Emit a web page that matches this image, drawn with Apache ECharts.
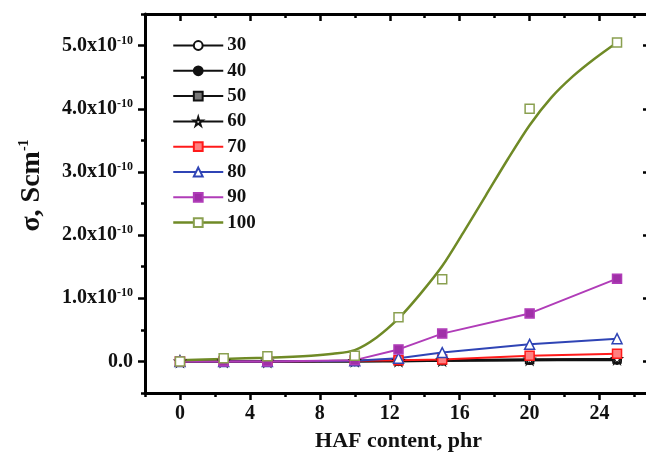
<!DOCTYPE html>
<html><head><meta charset="utf-8">
<script src="https://cdn.jsdelivr.net/npm/echarts@6/dist/echarts.min.js"></script>
<style>html,body{margin:0;padding:0;background:#fff}#c{width:646px;height:458px}</style>
</head><body><div id="c"></div>
<script>
// HAF content (phr)
const xValues = [0, 2.5, 5, 10, 12.5, 15, 20, 25];
// conductivity in units of 1e-10 S/cm
const s30 = [0, 0.0, 0.0, 0.0, 0.01, 0.01, 0.02, 0.03];
const s40 = [0, 0.0, 0.0, 0.0, 0.0, 0.01, 0.02, 0.02];
const s50 = [0, 0.0, 0.0, 0.01, 0.01, 0.02, 0.03, 0.04];
const s60 = [0, 0.0, 0.0, 0.01, 0.01, 0.02, 0.03, 0.04];
const s70 = [0, 0.0, 0.0, 0.01, 0.02, 0.03, 0.09, 0.12];
const s80 = [0, 0.0, 0.0, 0.01, 0.05, 0.14, 0.27, 0.36];
const s90 = [0, 0.0, 0.0, 0.02, 0.19, 0.44, 0.76, 1.31];
const s100 = [0, 0.05, 0.08, 0.09, 0.70, 1.30, 4.0, 5.05];
// fitted curve for 100
const fit100X = [0, 2.5, 5, 7.5, 8.75, 10, 11.25, 12.5, 13.75, 15, 16.25, 17.5, 18.75, 20, 21.25, 22.5, 23.75, 25];
const fit100Y = [0.02, 0.04, 0.06, 0.09, 0.12, 0.18, 0.38, 0.68, 1.07, 1.51, 2.06, 2.63, 3.2, 3.74, 4.18, 4.52, 4.8, 5.05];
const seriesNames = ['30', '40', '50', '60', '70', '80', '90', '100'];
const xMajorTicks = [0, 4, 8, 12, 16, 20, 24];
const yMajorTicks = [0, 1, 2, 3, 4, 5];

const FONT = 'Liberation Serif';
const starPath = 'path://M50,0 L61,35 L98,35 L68,57 L79,91 L50,70 L21,91 L32,57 L2,35 L39,35 Z';
const pair = (ys) => xValues.map((x, i) => [x, ys[i]]);

function lineSeries(name, ys, color, symbol, fill, size, extra) {
  return Object.assign({
    name, type: 'line', data: pair(ys), symbol, symbolSize: size,
    showAllSymbol: true,
    lineStyle: { color, width: 2 },
    itemStyle: { color: fill, borderColor: color, borderWidth: 1.5 },
    emphasis: { disabled: true }, animation: false
  }, extra || {});
}

const chart = echarts.init(document.getElementById('c'), null, { renderer: 'canvas' });
const axisCommon = { splitLine: { show: false } };
const tickStyle = { width: 2.5, color: '#000' };
const option = {
  animation: false,
  grid: { left: 145, top: 14, width: 507, height: 379, outerBoundsMode: 'none', containLabel: false },
  legend: {
    data: [
      { name: '30' }, { name: '40' }, { name: '50' }, { name: '60' },
      { name: '70' }, { name: '80' }, { name: '90' },
      { name: '100', lineStyle: { opacity: 1, width: 2.5, color: '#6f8a26' } }
    ],
    orient: 'vertical', left: 167, top: 31, itemWidth: 50, itemHeight: 11, itemGap: 6.3,
    textStyle: { fontFamily: FONT, fontWeight: 'bold', fontSize: 19, color: '#111', padding: [0, 0, 0, -1] }
  },
  xAxis: [
    Object.assign({}, axisCommon, {
      type: 'value', position: 'bottom', min: -2, max: 27, interval: 2,
      axisLine: { onZero: false, lineStyle: { color: '#000', width: 3 } },
      axisTick: { show: true, length: 7, customValues: xMajorTicks, lineStyle: tickStyle },
      axisLabel: { margin: 11, fontFamily: FONT, fontWeight: 'bold', fontSize: 20, color: '#111',
        formatter: (v) => (xMajorTicks.indexOf(v) >= 0 ? String(v) : '') },
      name: 'HAF content, phr', nameLocation: 'middle', nameGap: 37,
      nameTextStyle: { fontFamily: FONT, fontWeight: 'bold', fontSize: 22, color: '#111' }
    }),
    Object.assign({}, axisCommon, {
      type: 'value', position: 'bottom', min: -2, max: 27, interval: 2,
      axisLine: { show: false, onZero: false },
      axisTick: { show: true, length: 4, lineStyle: tickStyle },
      axisLabel: { show: false }
    }),
    Object.assign({}, axisCommon, {
      type: 'value', position: 'top', min: -2, max: 27, interval: 2,
      axisLine: { onZero: false, lineStyle: { color: '#000', width: 3 } },
      axisTick: { show: true, inside: true, length: 4, lineStyle: tickStyle },
      axisLabel: { show: false }
    }),
    Object.assign({}, axisCommon, {
      type: 'value', position: 'top', min: -2, max: 27, interval: 2,
      axisLine: { show: false, onZero: false },
      axisTick: { show: true, inside: true, length: 7, customValues: xMajorTicks, lineStyle: tickStyle },
      axisLabel: { show: false }
    })
  ],
  yAxis: [
    Object.assign({}, axisCommon, {
      type: 'value', position: 'left', min: -0.5, max: 5.5, interval: 0.5,
      axisLine: { onZero: false, lineStyle: { color: '#000', width: 3 } },
      axisTick: { show: true, length: 7, customValues: yMajorTicks, lineStyle: tickStyle },
      axisLabel: {
        margin: 12, fontFamily: FONT, fontWeight: 'bold', fontSize: 20, color: '#111',
        formatter: (v) => {
          if (yMajorTicks.indexOf(v) < 0) return '';
          if (v === 0) return '0.0';
          return v.toFixed(1) + 'x10{sup|-10}';
        },
        rich: { sup: { fontFamily: FONT, fontWeight: 'bold', fontSize: 12, color: '#111', verticalAlign: 'top', padding: [0, 0, 10, 0] } }
      },
      name: 'σ, Scm{sup|-1}', nameLocation: 'middle', nameGap: 98,
      nameTextStyle: { fontFamily: FONT, fontWeight: 'bold', fontSize: 28, color: '#111', padding: [0, 0, 0, 36],
        rich: { sup: { fontFamily: FONT, fontWeight: 'bold', fontSize: 14, color: '#111', padding: [0, 0, 16, 0] } } }
    }),
    Object.assign({}, axisCommon, {
      type: 'value', position: 'left', min: -0.5, max: 5.5, interval: 0.5,
      axisLine: { show: false, onZero: false },
      axisTick: { show: true, length: 4, lineStyle: tickStyle },
      axisLabel: { show: false }
    }),
    Object.assign({}, axisCommon, {
      type: 'value', position: 'right', min: -0.5, max: 5.5, interval: 0.5,
      axisLine: { show: false, onZero: false },
      axisTick: { show: true, inside: true, length: 4, lineStyle: tickStyle },
      axisLabel: { show: false }
    }),
    Object.assign({}, axisCommon, {
      type: 'value', position: 'right', min: -0.5, max: 5.5, interval: 0.5,
      axisLine: { show: false, onZero: false },
      axisTick: { show: true, inside: true, length: 9, customValues: yMajorTicks, lineStyle: tickStyle },
      axisLabel: { show: false }
    })
  ],
  series: [
    lineSeries('30', s30, '#111', 'circle', '#fff', 8),
    lineSeries('40', s40, '#111', 'circle', '#111', 8),
    lineSeries('50', s50, '#111', 'rect', '#777', 8),
    lineSeries('60', s60, '#111', starPath, '#fff', 10),
    lineSeries('70', s70, '#ff1a1a', 'rect', '#ff8080', 9),
    lineSeries('80', s80, '#2f44b5', 'triangle', '#fff', 10),
    lineSeries('90', s90, '#b03cb8', 'rect', '#a030a8', 9),
    {
      name: '100fit', type: 'line', data: fit100X.map((x, i) => [x, fit100Y[i]]),
      smooth: 0.3, showSymbol: false, symbol: 'none',
      lineStyle: { color: '#6f8a26', width: 2.5 }, emphasis: { disabled: true }, animation: false, z: 3
    },
    lineSeries('100', s100, '#7f9a3a', 'rect', '#fff', 9, {
      lineStyle: { color: '#6f8a26', width: 0, opacity: 0 }, z: 4,
      itemStyle: { color: '#fff', borderColor: '#8aa050', borderWidth: 1.5 }
    })
  ]
};
chart.setOption(option);
</script>
</body></html>
